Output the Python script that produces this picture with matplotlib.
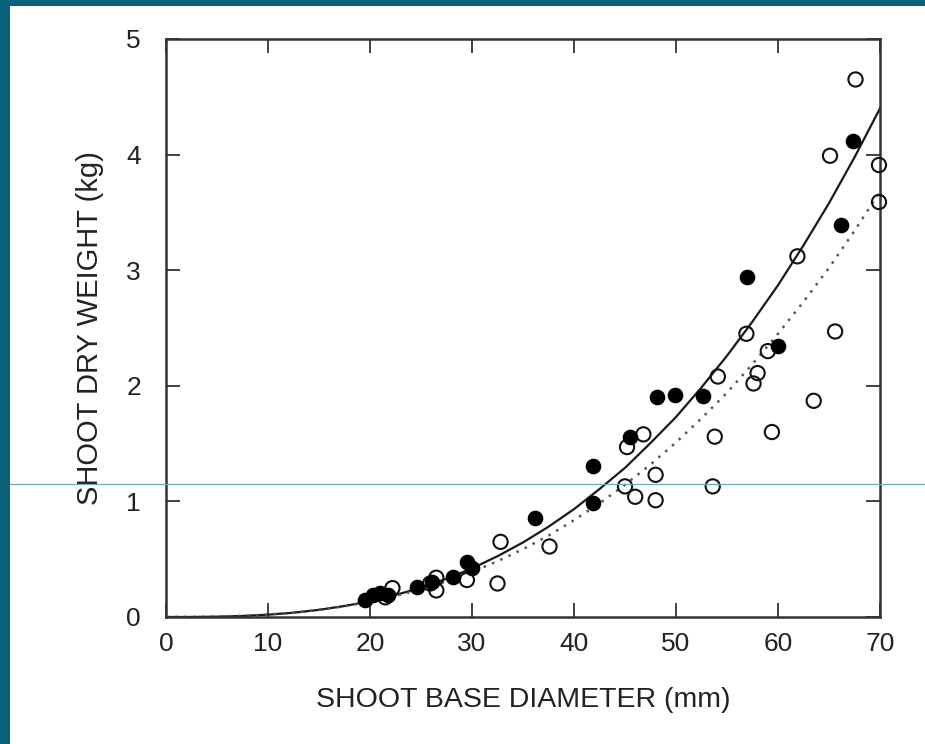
import matplotlib
matplotlib.use("Agg")
import matplotlib.pyplot as plt
from matplotlib.lines import Line2D
from matplotlib.patches import Rectangle

# Filled circles
filled_x = [19.5, 20.3, 21.0, 21.8, 24.6, 26.1, 28.1, 29.5, 30.0, 36.2,
            41.9, 41.9, 45.5, 48.1, 49.9, 52.6, 57.0, 60.0, 66.2, 67.4]
filled_y = [0.15, 0.19, 0.21, 0.19, 0.26, 0.30, 0.35, 0.48, 0.42, 0.86,
            1.31, 0.99, 1.56, 1.90, 1.92, 1.91, 2.94, 2.34, 3.39, 4.12]

# Open circles
open_x = [21.5, 22.2, 25.9, 26.5, 26.5, 29.5, 32.5, 32.8, 37.6, 45.0,
          45.2, 46.0, 46.8, 48.0, 48.0, 53.6, 53.8, 54.1, 56.9, 57.6,
          58.0, 59.0, 59.4, 61.9, 63.5, 65.1, 65.6, 67.6, 69.9, 69.9]
open_y = [0.17, 0.25, 0.29, 0.34, 0.23, 0.32, 0.29, 0.65, 0.61, 1.13,
          1.47, 1.04, 1.58, 1.23, 1.01, 1.13, 1.56, 2.08, 2.45, 2.02,
          2.11, 2.30, 1.60, 3.12, 1.87, 3.99, 2.47, 4.65, 3.91, 3.59]

# Fitted curves
curve_x = [0, 2.5, 5, 7.5, 10, 12.5, 15, 17.5, 20, 22.5, 25, 27.5, 30,
           32.5, 35, 37.5, 40, 42.5, 45, 47.5, 50, 52.5, 55, 57.5, 60,
           62.5, 65, 67.5, 70]
solid_y = [0.0, 0.0004, 0.003, 0.009, 0.020, 0.037, 0.062, 0.095, 0.137,
           0.19, 0.254, 0.331, 0.42, 0.526, 0.645, 0.781, 0.933, 1.107,
           1.29, 1.505, 1.73, 1.986, 2.26, 2.556, 2.87, 3.215, 3.58,
           3.976, 4.40]
dotted_y = [0.0, 0.0005, 0.003, 0.010, 0.021, 0.038, 0.062, 0.093, 0.133,
            0.182, 0.24, 0.309, 0.39, 0.482, 0.587, 0.704, 0.837, 0.983,
            1.144, 1.319, 1.51, 1.719, 1.94, 2.188, 2.45, 2.727, 3.02,
            3.341, 3.68]

x_ticks = [0, 10, 20, 30, 40, 50, 60, 70]
y_ticks = [0, 1, 2, 3, 4, 5]

plt.rcParams['font.family'] = ['Liberation Sans', 'DejaVu Sans']

W, H = 925, 744
fig = plt.figure(figsize=(W / 100, H / 100), dpi=100)
fig.patch.set_facecolor('white')

ax = fig.add_axes([166 / W, 1 - 617 / H, (880 - 166) / W, (617 - 39) / H])

ax.plot(curve_x, solid_y, color='#1a1a1a', lw=1.6, zorder=2)
ax.plot(curve_x, dotted_y, color='#555555', lw=1.8,
        linestyle=(0, (1, 2.6)), zorder=2)

ax.scatter(open_x, open_y, s=105, facecolors='none', edgecolors='#111111',
           linewidths=1.5, zorder=3, clip_on=False)
ax.scatter(filled_x, filled_y, s=105, facecolors='#000000',
           edgecolors='#000000', linewidths=1.0, zorder=4, clip_on=False)

ax.set_xlim(0, 70)
ax.set_ylim(0, 5)
ax.set_xticks(x_ticks)
ax.set_yticks(y_ticks)
ax.tick_params(direction='in', length=10, width=1.3, color='#333333',
               top=True, right=True, labelsize=19, labelcolor='#222222')
ax.tick_params(axis='x', pad=11)
ax.tick_params(axis='y', pad=18)
for s in ax.spines.values():
    s.set_linewidth(1.8)
    s.set_color('#333333')

ax.set_xlabel('SHOOT BASE DIAMETER (mm)', fontsize=20.5, color='#222222',
              labelpad=22)
ax.set_ylabel('SHOOT DRY WEIGHT (kg)', fontsize=21, color='#222222',
              labelpad=16)

# Teal frame strips and thin line
teal = '#0b6079'
fig.add_artist(Rectangle((0, 0), 10 / W, 1, transform=fig.transFigure,
                         facecolor=teal, edgecolor='none', zorder=10))
fig.add_artist(Rectangle((0, 1 - 6 / H), 1, 6 / H, transform=fig.transFigure,
                         facecolor=teal, edgecolor='none', zorder=10))
fig.add_artist(Line2D([10 / W, 1], [1 - 484 / H, 1 - 484 / H],
                      transform=fig.transFigure, color='#6fa9ba', lw=0.9,
                      zorder=11))

fig.savefig('out.png', dpi=100)
